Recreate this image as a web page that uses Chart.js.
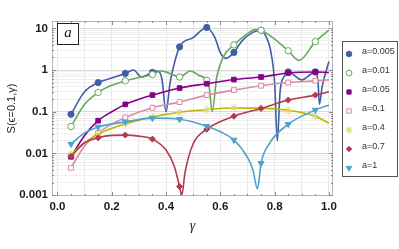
<!DOCTYPE html>
<html>
<head>
<meta charset="utf-8">
<script src="https://cdn.jsdelivr.net/npm/chart.js@4.4.1/dist/chart.umd.min.js"></script>
<style>
html, body { margin: 0; padding: 0; background: #fff; }
#wrap { width: 399px; height: 249px; }
</style>
</head>
<body>
<div id="wrap"><canvas id="chart" width="399" height="249"></canvas></div>
<script>
// gamma values where the markers sit
const gammaMarks = [0.05, 0.15, 0.25, 0.35, 0.45, 0.55, 0.65, 0.75, 0.85, 0.95];

// a=0.005
const line005 = [[0.05,0.087],[0.1,0.3],[0.15,0.5],[0.2,0.64],[0.25,0.83],[0.28,1.0],[0.31,0.68],[0.35,0.88],[0.37,0.95],[0.385,0.6],[0.4,0.1],[0.415,0.5],[0.43,1.4],[0.45,3.6],[0.5,6],[0.55,10.5],[0.58,6],[0.6,2.6],[0.62,1.9],[0.65,2.65],[0.68,5],[0.72,8],[0.75,9.0],[0.77,6],[0.785,3],[0.8,0.5],[0.81,0.02],[0.82,0.3],[0.835,0.7],[0.85,0.9],[0.9,0.58],[0.95,0.9],[0.96,0.5],[0.965,0.15],[0.975,0.4],[1.0,1.6]];
const marks005 = [0.087, 0.5, 0.83, 0.88, 3.6, 10.5, 2.65, 9.0, 0.9, 0.9];

// a=0.01
const line01 = [[0.05,0.044],[0.1,0.15],[0.15,0.29],[0.2,0.43],[0.25,0.55],[0.3,0.66],[0.35,0.78],[0.38,0.95],[0.41,0.85],[0.45,0.68],[0.49,0.95],[0.52,0.75],[0.55,0.56],[0.56,0.35],[0.57,0.1],[0.587,0.69],[0.61,2.0],[0.65,4.0],[0.7,7.5],[0.73,9.3],[0.75,9.0],[0.8,5.5],[0.85,2.9],[0.89,1.7],[0.95,4.8],[1.0,9.1]];
const marks01 = [0.044, 0.29, 0.55, 0.78, 0.68, 0.56, 4.0, 9.0, 2.9, 4.8];

// a=0.05
const line05 = [[0.05,0.0083],[0.1,0.027],[0.15,0.061],[0.2,0.1],[0.25,0.15],[0.3,0.2],[0.35,0.25],[0.45,0.37],[0.55,0.47],[0.65,0.59],[0.75,0.68],[0.85,0.85],[0.95,0.9],[1.0,0.87]];
const marks05 = [0.0083, 0.061, 0.15, 0.25, 0.37, 0.47, 0.59, 0.68, 0.85, 0.9];

// a=0.1
const line1 = [[0.05,0.0045],[0.1,0.015],[0.15,0.031],[0.2,0.05],[0.25,0.073],[0.35,0.125],[0.45,0.17],[0.55,0.25],[0.65,0.33],[0.75,0.42],[0.85,0.5],[0.95,0.55],[1.0,0.58]];
const marks1 = [0.0045, 0.031, 0.073, 0.125, 0.17, 0.25, 0.33, 0.42, 0.5, 0.55];

// a=0.4
const line4 = [[0.05,0.0095],[0.1,0.018],[0.15,0.029],[0.25,0.051],[0.35,0.075],[0.45,0.097],[0.55,0.113],[0.65,0.123],[0.75,0.122],[0.85,0.108],[0.95,0.078],[1.0,0.053]];
const marks4 = [0.0095, 0.029, 0.051, 0.075, 0.097, 0.113, 0.123, 0.122, 0.108, 0.078];

// a=0.7
const line7 = [[0.05,0.0085],[0.1,0.018],[0.15,0.0237],[0.2,0.027],[0.25,0.0275],[0.3,0.026],[0.35,0.022],[0.4,0.012],[0.43,0.005],[0.45,0.0016],[0.458,0.001],[0.47,0.0035],[0.5,0.017],[0.55,0.038],[0.65,0.078],[0.75,0.12],[0.85,0.19],[0.95,0.25],[1.0,0.3]];
const marks7 = [0.0085, 0.0237, 0.0275, 0.022, 0.0016, 0.038, 0.078, 0.12, 0.19, 0.25];

// a=1
const line10 = [[0.05,0.0167],[0.1,0.031],[0.15,0.043],[0.25,0.057],[0.35,0.07],[0.45,0.066],[0.55,0.045],[0.6,0.033],[0.65,0.021],[0.7,0.008],[0.72,0.004],[0.737,0.0014],[0.75,0.0058],[0.78,0.017],[0.85,0.05],[0.95,0.11],[1.0,0.145]];
const marks10 = [0.0167, 0.043, 0.057, 0.07, 0.066, 0.045, 0.021, 0.0058, 0.05, 0.11];

const xGridVals = [0, 0.1, 0.2, 0.3, 0.4, 0.5, 0.6, 0.7, 0.8, 0.9, 1.0];
const xMinorVals = [0, 0.05, 0.1, 0.15, 0.2, 0.25, 0.3, 0.35, 0.4, 0.45, 0.5, 0.55, 0.6, 0.65, 0.7, 0.75, 0.8, 0.85, 0.9, 0.95, 1.0];
const yTickVals = [];
for (let k = -3; k <= 1; k++) {
    for (let m = 1; m <= 9; m++) {
        const v = Number((m * Math.pow(10, k)).toPrecision(3));
        if (v >= 0.001 && v <= 10) yTickVals.push(v);
    }
}

const series = [
    { label: 'a=0.005', line: line005, marks: marks005, color: '#3f5fa3', mark: '#3f5fa3', fill: '#3f5fa3', style: 'circle', r: 3.1 },
    { label: 'a=0.01', line: line01, marks: marks01, color: '#67a95b', mark: '#67a95b', fill: '#ffffff', style: 'circle', r: 3.2 },
    { label: 'a=0.05', line: line05, marks: marks05, color: '#87008a', mark: '#87008a', fill: '#87008a', style: 'rect', r: 3.3 },
    { label: 'a=0.1', line: line1, marks: marks1, color: '#d98ba5', mark: '#d98ba5', fill: '#ffffff', style: 'rect', r: 3.4 },
    { label: 'a=0.4', line: line4, marks: marks4, color: '#bdb500', mark: '#d8d66a', fill: '#ffffff', style: 'star', r: 4 },
    { label: 'a=0.7', line: line7, marks: marks7, color: '#b33a4e', mark: '#b33a4e', fill: '#b33a4e', style: 'rectRot', r: 3 },
    { label: 'a=1', line: line10, marks: marks10, color: '#4da3cb', mark: '#4da3cb', fill: '#4da3cb', style: 'triangle', r: 3.5, rot: 180 },
];

const datasets = [];
series.forEach((s, i) => {
    datasets.push({
        type: 'line',
        label: s.label,
        data: s.line.map(p => ({ x: p[0], y: p[1] })),
        borderColor: s.color,
        borderWidth: 1.6,
        pointRadius: 0,
        cubicInterpolationMode: 'monotone',
        fill: false,
        order: 100 - i * 2,
    });
    datasets.push({
        type: 'line',
        label: s.label + ' marks',
        data: gammaMarks.map((g, j) => ({ x: g, y: s.marks[j] })),
        showLine: false,
        pointStyle: s.style,
        pointRadius: s.r,
        pointRotation: s.rot || 0,
        pointBackgroundColor: s.fill,
        pointBorderColor: s.mark,
        pointBorderWidth: 1,
        order: 99 - i * 2,
    });
});

function isDecade(v) {
    const l = Math.log10(v);
    return Math.abs(l - Math.round(l)) < 1e-9;
}

const framePlugin = {
    id: 'frame',
    afterDatasetsDraw(chart) {
        const { ctx, chartArea: a, scales } = chart;
        ctx.save();
        ctx.strokeStyle = '#b4b4b4';
        ctx.lineWidth = 1;
        ctx.strokeRect(a.left + 0.5, a.top + 0.5, a.right - a.left - 1, a.bottom - a.top - 1);
        ctx.strokeStyle = '#8a8a8a';
        ctx.beginPath();
        yTickVals.forEach(v => {
            const y = Math.round(scales.y.getPixelForValue(v)) + 0.5;
            const len = isDecade(v) ? 4 : 2;
            ctx.moveTo(a.left, y); ctx.lineTo(a.left + len, y);
            ctx.moveTo(a.right, y); ctx.lineTo(a.right - len, y);
        });
        xMinorVals.forEach(v => {
            const x = Math.round(scales.x.getPixelForValue(v)) + 0.5;
            const k = Math.round(v * 20);
            const len = k % 4 === 0 ? 4 : 2;
            ctx.moveTo(x, a.bottom); ctx.lineTo(x, a.bottom - len);
            ctx.moveTo(x, a.top); ctx.lineTo(x, a.top + len);
        });
        ctx.stroke();

        // panel label
        ctx.strokeStyle = '#222';
        ctx.strokeRect(57.5, 23.5, 21, 21);
        ctx.fillStyle = '#fff';
        ctx.fillRect(58, 24, 20, 20);
        ctx.fillStyle = '#222';
        ctx.font = 'italic 15px "Liberation Serif", serif';
        ctx.textAlign = 'center';
        ctx.textBaseline = 'middle';
        ctx.fillText('a', 68, 33);

        // legend
        ctx.fillStyle = '#fff';
        ctx.fillRect(342, 41, 56, 136);
        ctx.strokeStyle = '#555';
        ctx.strokeRect(342.5, 41.5, 55, 135);
        series.forEach((s, i) => {
            const y = 53 + i * 19;
            ctx.fillStyle = s.fill;
            ctx.strokeStyle = s.mark;
            ctx.lineWidth = 1;
            Chart.helpers.drawPoint(ctx, { pointStyle: s.style, radius: s.r - 0.3, rotation: s.rot || 0, borderWidth: 1 }, 349, y + 1);
            ctx.fillStyle = '#333';
            ctx.font = '9px "Liberation Sans", Arial, sans-serif';
            ctx.textAlign = 'left';
            ctx.textBaseline = 'middle';
            ctx.fillText(s.label, 362, y - 1);
        });
        ctx.restore();
    }
};

const tickFont = { family: '"Liberation Sans", Arial, sans-serif', size: 11.5, weight: 'bold' };

new Chart(document.getElementById('chart'), {
    data: { datasets: datasets },
    options: {
        responsive: false,
        animation: false,
        devicePixelRatio: 1,
        layout: { padding: { top: 21, right: 66, left: 0, bottom: 0 } },
        plugins: { legend: { display: false }, tooltip: { enabled: false } },
        scales: {
            x: {
                type: 'linear',
                min: -0.02,
                max: 1.015,
                afterBuildTicks: s => { s.ticks = xGridVals.map(v => ({ value: v })); },
                afterFit: s => { s.height = 53; },
                ticks: {
                    autoSkip: false,
                    maxRotation: 0,
                    padding: 4,
                    color: '#1a1a1a',
                    font: tickFont,
                    callback: v => (Math.round(v * 10) % 2 === 0) ? v.toFixed(1) : '',
                },
                grid: { color: '#e8e8e8', drawTicks: false },
                border: { display: false },
                title: {
                    display: true,
                    text: 'γ',
                    color: '#222',
                    font: { family: '"Liberation Serif", serif', style: 'italic', size: 14 },
                    padding: { top: 0, bottom: 14 },
                },
            },
            y: {
                type: 'logarithmic',
                min: 0.00095,
                max: 15,
                afterBuildTicks: s => { s.ticks = yTickVals.map(v => ({ value: v })); },
                afterFit: s => { s.width = 52; },
                ticks: {
                    autoSkip: false,
                    padding: 4,
                    color: '#1a1a1a',
                    font: tickFont,
                    callback: v => isDecade(v) ? String(v) : '',
                },
                grid: {
                    color: c => (c.tick && isDecade(c.tick.value)) ? '#d9d9d9' : '#efefef',
                    drawTicks: false,
                },
                border: { display: false },
                title: {
                    display: true,
                    text: 'S(ϵ=0.1,γ)',
                    color: '#222',
                    font: { family: '"Liberation Sans", Arial, sans-serif', size: 11 },
                    padding: { top: 5, bottom: 0 },
                },
            },
        },
    },
    plugins: [framePlugin],
});
</script>
</body>
</html>
